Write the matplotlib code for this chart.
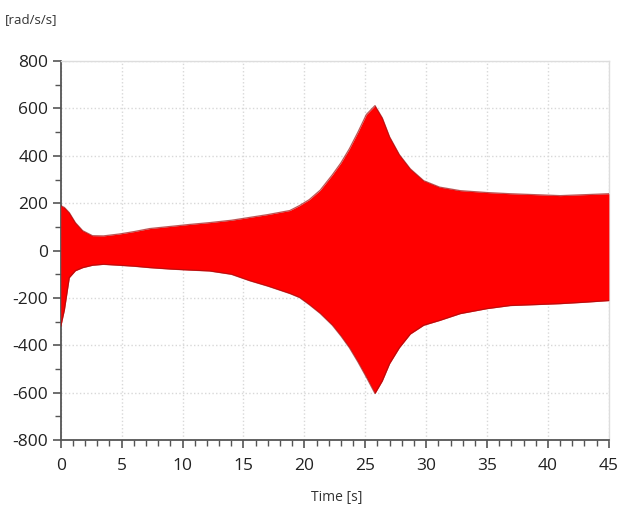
import numpy as np
from matplotlib import pyplot as plt
from matplotlib.ticker import MultipleLocator

# envelope of the signal
t = [0.0, 0.3, 0.7, 1.2, 1.8, 2.6, 3.5, 4.8, 6.0, 7.3, 9.0, 10.5, 12.2, 14.0, 15.5,
     17.0, 18.8, 19.6, 20.4, 21.3, 22.3, 23.0, 23.7, 24.4, 25.1, 25.8, 26.4, 27.0,
     27.8, 28.7, 29.8, 31.1, 32.8, 35.0, 36.9, 39.0, 41.0, 43.0, 45.0]
upper = [190, 182, 160, 118, 84, 63, 62, 70, 80, 93, 102, 110, 118, 128, 140,
         152, 169, 190, 215, 255, 320, 370, 430, 500, 575, 612, 560, 480,
         405, 345, 295, 268, 253, 245, 240, 236, 232, 236, 240]
lower = [-320, -250, -114, -85, -72, -62, -58, -62, -66, -72, -78, -82, -86, -100, -127,
         -150, -181, -198, -228, -265, -315, -360, -410, -470, -535, -603, -550, -477,
         -410, -352, -315, -295, -266, -245, -232, -228, -224, -218, -211]

plt.rcParams['font.family'] = ['Open Sans', 'DejaVu Sans']
plt.rcParams['axes.unicode_minus'] = False

fig = plt.figure(figsize=(6.2, 5.13), dpi=100)
ax = fig.add_axes([0.098, 0.142, 0.884, 0.739])

ax.fill_between(t, lower, upper, color='#ff0000', lw=0, zorder=3)
ax.plot(t, upper, color='#a01010', lw=0.9, alpha=0.7, zorder=4)
ax.plot(t, lower, color='#a01010', lw=0.9, alpha=0.7, zorder=4)

ax.set_xlim(0, 45)
ax.set_ylim(-800, 800)
ax.xaxis.set_major_locator(MultipleLocator(5))
ax.xaxis.set_minor_locator(MultipleLocator(1))
ax.yaxis.set_major_locator(MultipleLocator(200))
ax.yaxis.set_minor_locator(MultipleLocator(100))

ax.grid(True, which='major', color='#d8d8d8', linestyle=':', linewidth=1.0, zorder=0)
for s in ['left', 'bottom']:
    ax.spines[s].set_color('#555555')
    ax.spines[s].set_linewidth(1.3)
for s in ['top', 'right']:
    ax.spines[s].set_color('#dddddd')
    ax.spines[s].set_linewidth(1.0)

ax.tick_params(which='major', length=6, width=1.2, color='#555555', labelsize=12.5, labelcolor='#222222', pad=3)
ax.tick_params(which='minor', length=4, width=1.0, color='#555555')
ax.tick_params(axis='x', which='major', pad=7)

fig.text(0.008, 0.962, '[rad/s/s]', fontsize=9.5, color='#333333', ha='left', va='center')
fig.text(0.543, 0.031, 'Time [s]', fontsize=10, color='#333333', ha='center', va='center')

plt.savefig('out.png', dpi=100)
